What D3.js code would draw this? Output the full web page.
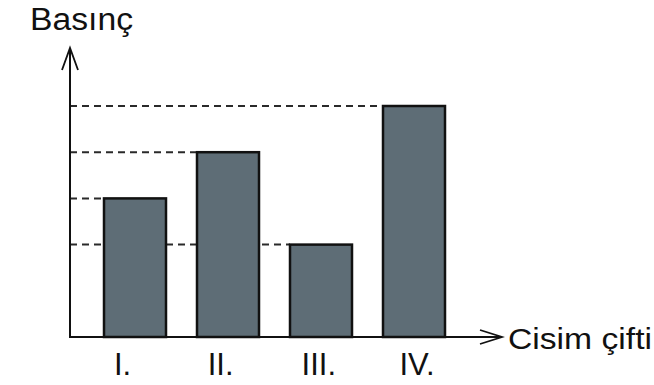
<!DOCTYPE html>
<html><head><meta charset="utf-8">
<script src="https://cdn.jsdelivr.net/npm/d3@7"></script>
<style>body{margin:0;background:#fff}svg{display:block}text{font-family:"Liberation Sans",Arial,sans-serif;fill:#111}</style>
</head><body><svg id="c" width="654" height="385"></svg>
<script>
const categories = ["I.", "II.", "III.", "IV."];
const values = [3, 4, 2, 5];
const yLabel = "Basınç";
const xLabel = "Cisim çifti";

const svg = d3.select("#c");
const x0 = 70, xEnd = 502, y0 = 337, yTop = 48;
const x = d3.scaleBand().domain(categories).range([88.5, 460.5]).paddingInner(1/3).paddingOuter(1/6);
const xl = d3.scalePoint().domain(categories).range([122.5, 417]);
const y = d3.scaleLinear().domain([0, 5]).range([y0, 106]);

// dashed guide lines
svg.append("g").selectAll("line").data(categories).join("line")
  .attr("x1", x0).attr("x2", d => x(d))
  .attr("y1", (d, i) => y(values[i])).attr("y2", (d, i) => y(values[i]))
  .attr("stroke", "#2a2a2a").attr("stroke-width", 2).attr("stroke-dasharray", "7,5");

// bars
svg.append("g").selectAll("rect").data(categories).join("rect")
  .attr("x", d => x(d)).attr("width", x.bandwidth())
  .attr("y", (d, i) => y(values[i])).attr("height", (d, i) => y0 - y(values[i]))
  .attr("fill", "#5e6d76").attr("stroke", "#111").attr("stroke-width", 2.5);

// axes
const ax = svg.append("g").attr("stroke", "#111").attr("stroke-width", 2).attr("fill", "none");
ax.append("line").attr("x1", x0).attr("y1", y0 + 1).attr("x2", x0).attr("y2", yTop);
ax.append("line").attr("x1", x0 - 1).attr("y1", y0).attr("x2", xEnd).attr("y2", y0);
ax.append("path").attr("d", `M${x0-8},${yTop+22}L${x0},${yTop}L${x0+8},${yTop+22}`).attr("stroke-width", 1.8);
ax.append("path").attr("d", `M${xEnd-22},${y0-7}L${xEnd},${y0}L${xEnd-22},${y0+7}`).attr("stroke-width", 1.8);

// category labels
svg.append("g").selectAll("text").data(categories).join("text")
  .attr("x", d => xl(d)).attr("y", 375)
  .attr("text-anchor", "middle").attr("font-size", 31).text(d => d);

svg.append("text").attr("x", 30).attr("y", 30).attr("font-size", 31)
  .attr("textLength", 103).attr("lengthAdjust", "spacingAndGlyphs").text(yLabel);
svg.append("text").attr("x", 508).attr("y", 349).attr("font-size", 30)
  .attr("textLength", 144).attr("lengthAdjust", "spacingAndGlyphs").text(xLabel);
</script></body></html>
